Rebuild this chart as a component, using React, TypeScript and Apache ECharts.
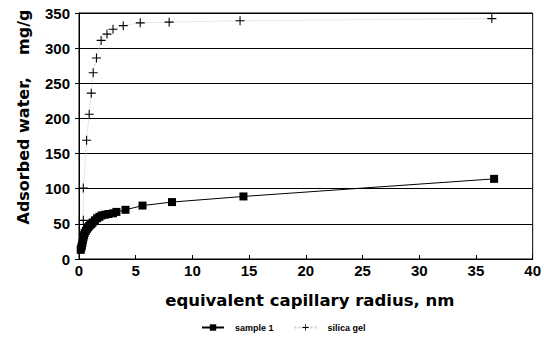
import React, { useEffect, useRef } from "react";
import * as echarts from "echarts";

const sample1X = [0.15, 0.2, 0.25, 0.3, 0.35, 0.4, 0.45, 0.5, 0.6, 0.7, 0.8, 0.9, 1.0, 1.1, 1.2, 1.4, 1.6, 1.8, 2.0, 2.3, 2.6, 3.0, 3.3, 4.1, 5.6, 8.2, 14.5, 36.6];
const sample1Y = [13, 16, 19, 23, 27, 31, 34, 37, 40, 43, 45, 47, 49, 50, 52, 55, 58, 60, 62, 63, 64, 65, 67, 70, 76, 81, 89, 114];
const silicaX = [0.38, 0.38, 0.67, 0.9, 1.08, 1.25, 1.54, 1.95, 2.47, 3.0, 3.9, 5.4, 7.95, 14.2, 36.4];
const silicaY = [55, 101, 169, 206, 236, 265, 286, 311, 320, 327, 332, 336, 337, 339, 342];
const xTicks = [0, 5, 10, 15, 20, 25, 30, 35, 40];
const yTicks = [0, 50, 100, 150, 200, 250, 300, 350];

const FONT = "'Liberation Sans', Arial, sans-serif";
const NAMEFONT = "'DejaVu Sans', 'Liberation Sans', sans-serif";
const PLUS = "path://M4.4,0h1.2v10h-1.2z M0,4.4h10v1.2h-10z";

export default function App() {
  const ref = useRef<HTMLDivElement>(null);
  useEffect(() => {
    const chart = echarts.init(ref.current!, null, { renderer: "svg" });
    chart.setOption({
      animation: false,
      backgroundColor: "#fff",
      grid: { left: 79, right: 11, top: 13, bottom: 100, show: true, borderColor: "#000", borderWidth: 1 },
      xAxis: {
        type: "value",
        min: xTicks[0],
        max: xTicks[xTicks.length - 1],
        interval: 5,
        name: "equivalent capillary radius, nm",
        nameLocation: "middle",
        nameGap: 33,
        nameTextStyle: { fontFamily: NAMEFONT, fontWeight: "bold", fontSize: 16.5, color: "#000", padding: [0, 0, 0, 8] },
        axisLine: { lineStyle: { color: "#000" } },
        axisTick: { inside: true, length: 4, lineStyle: { color: "#000" } },
        axisLabel: { fontFamily: FONT, fontWeight: "bold", fontSize: 15, color: "#000", margin: 4 },
        splitLine: { show: false },
      },
      yAxis: {
        type: "value",
        min: yTicks[0],
        max: yTicks[yTicks.length - 1],
        interval: 50,
        axisLine: { show: true, lineStyle: { color: "#000" } },
        axisTick: { show: true, length: 4, lineStyle: { color: "#000" } },
        axisLabel: { fontFamily: FONT, fontWeight: "bold", fontSize: 15, color: "#000", margin: 9 },
        splitLine: { show: true, lineStyle: { color: "#000", width: 1 } },
      },
      graphic: [
        {
          type: "text",
          x: 23,
          y: 117,
          rotation: Math.PI / 2,
          style: {
            text: "Adsorbed water,    mg/g",
            fontFamily: NAMEFONT,
            fontWeight: "bold",
            fontSize: 16,
            fill: "#000",
            align: "center",
            verticalAlign: "middle",
          },
        },
      ],
      legend: {
        bottom: 22,
        left: 196,
        itemGap: 20,
        itemWidth: 22,
        itemHeight: 8,
        textStyle: { fontFamily: FONT, fontWeight: "bold", fontSize: 9, color: "#000", padding: [0, 0, 0, 6] },
        data: ["sample 1", "silica gel"],
      },
      series: [
        {
          name: "sample 1",
          type: "line",
          data: sample1X.map((x, i) => [x, sample1Y[i]]),
          symbol: "rect",
          symbolSize: 8,
          itemStyle: { color: "#000" },
          lineStyle: { color: "#000", width: 1 },
        },
        {
          name: "silica gel",
          type: "line",
          data: silicaX.map((x, i) => [x, silicaY[i]]),
          symbol: PLUS,
          symbolSize: 9,
          itemStyle: { color: "#000" },
          lineStyle: { color: "#ccc", width: 1, type: "dotted" },
        },
      ],
    });
    return () => chart.dispose();
  }, []);
  return <div ref={ref} style={{ width: 544, height: 359, position: "absolute", left: 0, top: 0 }} />;
}
